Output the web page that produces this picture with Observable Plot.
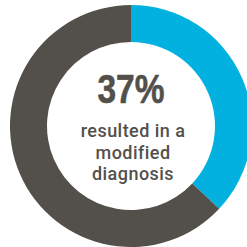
<!DOCTYPE html>
<html><head><meta charset="utf-8">
<script src="https://cdn.jsdelivr.net/npm/d3@7"></script>
<script src="https://cdn.jsdelivr.net/npm/@observablehq/plot@0.6"></script>
<style>html,body{margin:0;padding:0;background:#fff;overflow:hidden}</style>
</head><body><div id="chart"></div>
<script>
const categories = ["Resulted in a modified diagnosis", "Other"];
const values = [37, 63];
const colors = ["#02B1DF", "#53504B"];
const centerValue = "37%";
const labelLines = ["resulted in a", "modified", "diagnosis"];

const cx = 131, cy = 126, rOuter = 121, rInner = 84;
const pie = d3.pie().sort(null).value(d => d.value)(categories.map((c, i) => ({category: c, value: values[i], color: colors[i]})));

const donut = (index, scales) => {
  const g = d3.create("svg:g");
  const sx = scales.x, sy = scales.y;
  const k = Math.abs(sx(1) - sx(0));
  const arc = d3.arc().innerRadius(rInner * k).outerRadius(rOuter * k);
  g.selectAll("path").data(pie).join("path")
    .attr("transform", `translate(${sx(cx)},${sy(cy)})`)
    .attr("d", arc)
    .attr("fill", d => d.data.color);
  return g.node();
};

const baselines = [136, 158, 179.5];
const textRows = labelLines.map((t, i) => ({t, y: baselines[i]}));

const chart = Plot.plot({
  width: 247, height: 247, margin: 0,
  x: {domain: [0, 247], axis: null},
  y: {domain: [0, 247], reverse: true, axis: null},
  marks: [
    donut,
    Plot.text([centerValue], {x: 130.5, y: 102, text: d => d, fontSize: 41, fontWeight: "bold", fill: "#53504B", fontFamily: "'Liberation Sans',Arial,sans-serif", lineAnchor: "bottom", textAnchor: "middle", className: "bignum"}),
    Plot.text(textRows, {x: 132.5, y: "y", text: "t", fontSize: 18, fontWeight: 500, fill: "#53504B", fontFamily: "Roboto,sans-serif", lineAnchor: "bottom", textAnchor: "middle", className: "lbl"})
  ]
});
d3.select(chart).selectAll(".bignum text").attr("textLength", 67).attr("lengthAdjust", "spacingAndGlyphs").attr("stroke", "#53504B").attr("stroke-width", 0.6);
d3.select(chart).selectAll(".lbl text").style("letter-spacing", "0.45px");
document.getElementById("chart").appendChild(chart);
</script></body></html>
